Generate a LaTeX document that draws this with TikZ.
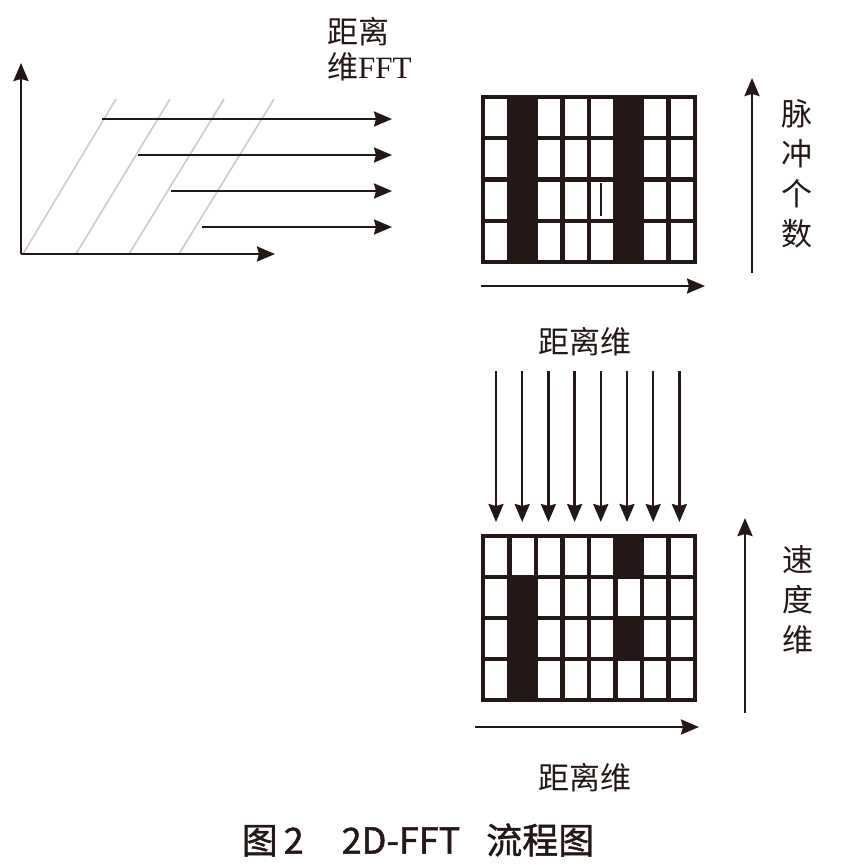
\documentclass[tikz,border=0pt]{standalone}
\usepackage{fontspec}
\setmainfont{Liberation Serif}
\newfontfamily\cjk{Noto Sans CJK SC}
\newfontfamily\cjkcap{Noto Sans CJK SC}[FakeBold=1.2]
\usetikzlibrary{arrows.meta}
\definecolor{ink}{RGB}{35,24,21}
\definecolor{paleline}{RGB}{205,205,205}
\begin{document}
\begin{tikzpicture}[x=1pt,y=-1pt,
  arr/.style={draw=ink,line width=2.4pt,-{Stealth[length=18pt,width=15pt,inset=2pt]}},
  gridline/.style={draw=ink,line width=4.2pt},
  cell/.style={fill=ink},
  slant/.style={draw=paleline,line width=1.7pt},
  lbl/.style={font=\cjk\fontsize{31}{40}\selectfont,text=ink,inner sep=0pt,align=center},
]
\useasboundingbox (0,0) rectangle (849,868);
\fill[white] (0,0) rectangle (849,868);

% ---------- left: axes with slanted lines ----------
\coordinate (O) at (21,254);
\coordinate (Ytop) at (21,63);
\coordinate (Xend) at (275,254);
\foreach \a/\b in {23/116,76/170,129/224,179/274}
  \draw[slant] (\a,254) -- (\b,99);
\draw[arr] (O) -- (Ytop);
\draw[arr] (O) -- (Xend);
\foreach \s/\y [count=\k] in {102/119,138/155,171/191,202/227}{
  \coordinate (hs\k) at (\s,\y);
  \coordinate (he\k) at (392,\y);
  \draw[arr] (hs\k) -- (he\k);
}
\node[lbl,anchor=west,align=left,font=\fontsize{31}{35}\selectfont] (fftlbl) at (327,49)
  {{\cjk 距离}\\{\cjk 维}FFT};

% ---------- top grid ----------
\foreach \c in {1,5}
  \fill[cell] ({483+26.5*\c},97) rectangle ({483+26.5*(\c+1)},262);
\foreach \i in {1,...,7}
  \draw[gridline] ({483+26.5*\i},97) -- ({483+26.5*\i},262);
\foreach \j in {1,...,3}
  \draw[gridline] (483,{97+41.25*\j}) -- (695,{97+41.25*\j});
\draw[gridline] (483,97) rectangle (695,262);
\draw[ink,line width=2.5pt] (601,183) -- (601,216);

\coordinate (ta1) at (481,286);
\coordinate (ta2) at (705,286);
\draw[arr] (ta1) -- (ta2);
\coordinate (pa1) at (752,273);
\coordinate (pa2) at (752,78);
\draw[arr] (pa1) -- (pa2);
\node[lbl] (pulse) at (797,174) {脉\\冲\\个\\数};
\node[lbl] (rd1) at (585,342) {距离维};

% ---------- down arrows ----------
\foreach \i in {0,...,7}{
  \coordinate (ds\i) at ({496+26.2*\i},371);
  \coordinate (de\i) at ({496+26.2*\i},522);
  \draw[arr] (ds\i) -- (de\i);
}

% ---------- bottom grid ----------
\fill[cell] ({483+26.5*1},{536+41*1}) rectangle ({483+26.5*2},700);
\fill[cell] ({483+26.5*5},536) rectangle ({483+26.5*6},{536+41*1});
\fill[cell] ({483+26.5*5},{536+41*2}) rectangle ({483+26.5*6},{536+41*3});
\foreach \i in {1,...,7}
  \draw[gridline] ({483+26.5*\i},536) -- ({483+26.5*\i},700);
\foreach \j in {1,...,3}
  \draw[gridline] (483,{536+41*\j}) -- (695,{536+41*\j});
\draw[gridline] (483,536) rectangle (695,700);

\coordinate (ba1) at (475,727);
\coordinate (ba2) at (699,727);
\draw[arr] (ba1) -- (ba2);
\coordinate (va1) at (745,713);
\coordinate (va2) at (745,518);
\draw[arr] (va1) -- (va2);
\node[lbl] (vel) at (798,600) {速\\度\\维};
\node[lbl] (rd2) at (585,778) {距离维};

% ---------- caption ----------
\node[lbl,font=\cjkcap\fontsize{36}{40}\selectfont] (cap) at (418,840)
  {图\hspace{6pt}2\hspace{38pt}2D-FFT\hspace{26pt}流程图};
\end{tikzpicture}
\end{document}
